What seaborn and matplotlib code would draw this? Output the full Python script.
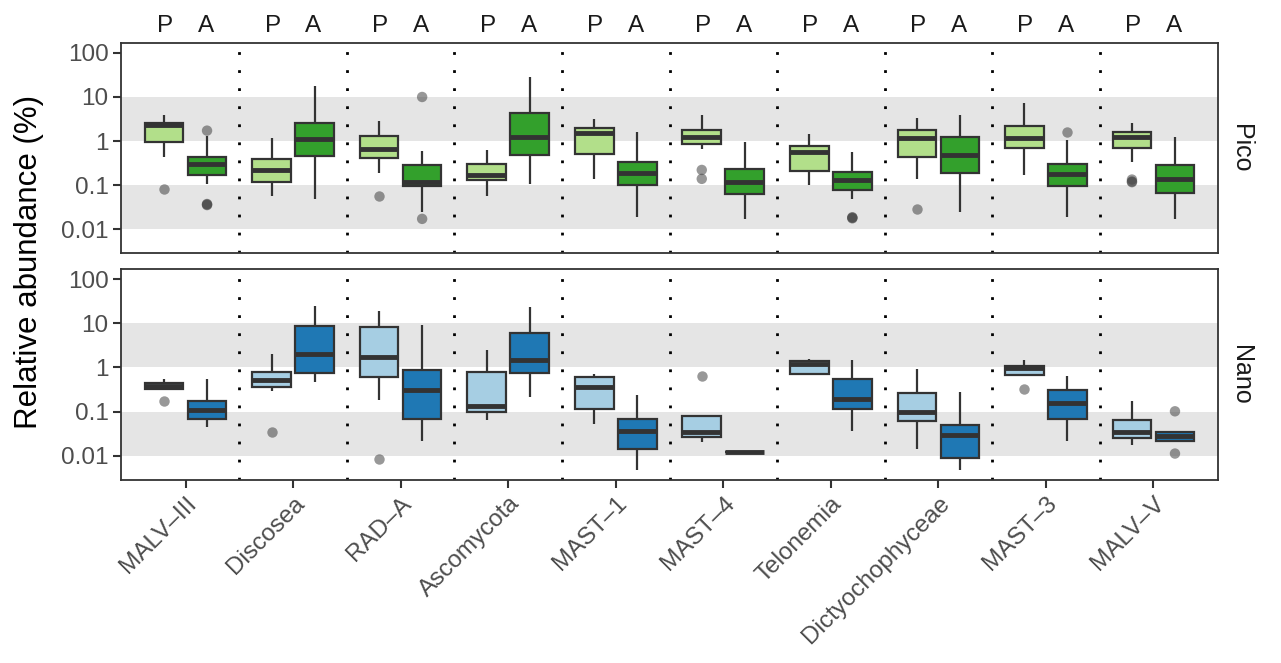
import numpy as np
import pandas as pd
import matplotlib.pyplot as plt
import seaborn as sns

sns.set_style('ticks')
plt.rcParams['font.family'] = ['Liberation Sans', 'DejaVu Sans']

taxa = ['MALV–III', 'Discosea', 'RAD–A', 'Ascomycota', 'MAST–1',
        'MAST–4', 'Telonemia', 'Dictyochophyceae', 'MAST–3', 'MALV–V']
groups = ['P', 'A']
fractions = ['Pico', 'Nano']

# box summaries per taxon: (whisker low, q1, median, q3, whisker high), %
pico_P = [(0.43, 0.97, 2.35, 2.55, 3.9), (0.056, 0.118, 0.22, 0.38, 1.17),
          (0.185, 0.41, 0.66, 1.32, 2.83), (0.056, 0.133, 0.17, 0.30, 0.64),
          (0.14, 0.51, 1.5, 1.97, 3.1), (0.65, 0.86, 1.26, 1.8, 3.86),
          (0.098, 0.21, 0.56, 0.79, 1.41), (0.14, 0.44, 1.17, 1.8, 3.3),
          (0.17, 0.7, 1.17, 2.22, 7.2), (0.33, 0.69, 1.22, 1.57, 2.6)]
pico_A = [(0.105, 0.173, 0.305, 0.44, 1.3), (0.047, 0.45, 1.11, 2.5, 17.4),
          (0.024, 0.096, 0.118, 0.285, 0.59), (0.103, 0.49, 1.22, 4.36, 28),
          (0.019, 0.1, 0.19, 0.34, 1.6), (0.017, 0.061, 0.118, 0.23, 0.95),
          (0.047, 0.077, 0.133, 0.195, 0.57), (0.024, 0.185, 0.47, 1.26, 3.9),
          (0.019, 0.094, 0.18, 0.295, 1.06), (0.017, 0.067, 0.14, 0.29, 1.26)]
nano_P = [(0.32, 0.32, 0.38, 0.44, 0.56), (0.30, 0.365, 0.52, 0.785, 2.04),
          (0.182, 0.615, 1.71, 8.3, 18.7), (0.065, 0.096, 0.135, 0.8, 2.45),
          (0.052, 0.116, 0.365, 0.594, 0.695), (0.0204, 0.0265, 0.035, 0.08, 0.082),
          (0.72, 0.73, 1.19, 1.39, 1.57), (0.0147, 0.06, 0.099, 0.27, 0.92),
          (0.67, 0.67, 0.95, 1.07, 1.47), (0.0178, 0.026, 0.035, 0.065, 0.17)]
nano_A = [(0.045, 0.069, 0.11, 0.174, 0.56), (0.47, 0.76, 1.97, 8.8, 25),
          (0.022, 0.069, 0.31, 0.855, 9.2), (0.22, 0.745, 1.47, 6.1, 23),
          (0.0047, 0.014, 0.036, 0.069, 0.24), (0.012, 0.012, 0.012, 0.012, 0.012),
          (0.037, 0.118, 0.19, 0.545, 1.51), (0.0047, 0.009, 0.029, 0.049, 0.28),
          (0.022, 0.068, 0.158, 0.307, 0.645), (0.022, 0.022, 0.028, 0.034, 0.036)]

# outliers: (taxon index, value)
pico_P_out = [(0, 0.082), (2, 0.056), (5, 0.22), (5, 0.138), (7, 0.028),
              (9, 0.133), (9, 0.116), (9, 0.12)]
pico_A_out = [(0, 1.72), (0, 0.037), (0, 0.036), (0, 0.035), (2, 10), (2, 0.017),
              (6, 0.018), (6, 0.0185), (6, 0.0175), (8, 1.63)]
nano_P_out = [(0, 0.174), (1, 0.034), (2, 0.0083), (5, 0.65), (8, 0.33)]
nano_A_out = [(9, 0.102), (9, 0.0113)]

series = {('Pico', 'P'): (pico_P, pico_P_out), ('Pico', 'A'): (pico_A, pico_A_out),
          ('Nano', 'P'): (nano_P, nano_P_out), ('Nano', 'A'): (nano_A, nano_A_out)}

rows, out_rows = [], []
for (frac, grp), (stats, outs) in series.items():
    for t, vals in zip(taxa, stats):
        for v in vals:
            rows.append({'fraction': frac, 'group': grp, 'taxon': t, 'value': v})
    for i, v in outs:
        out_rows.append({'fraction': frac, 'group': grp, 'taxon': taxa[i], 'value': v})
df = pd.DataFrame(rows)
df_out = pd.DataFrame(out_rows)

palettes = {'Pico': {'P': '#b2df8a', 'A': '#33a02c'},
            'Nano': {'P': '#a6cee3', 'A': '#1f78b4'}}

fig = plt.figure(figsize=(12.81, 6.63), dpi=100)
W, H = 1281, 663
ax_top = fig.add_axes([121 / W, 1 - 253 / H, 1097 / W, 210 / H])
ax_bot = fig.add_axes([121 / W, 1 - 480 / H, 1097 / W, 211 / H])

for ax, frac in [(ax_top, 'Pico'), (ax_bot, 'Nano')]:
    ax.axhspan(0.01, 0.1, color='#e5e5e5', zorder=0, lw=0)
    ax.axhspan(1, 10, color='#e5e5e5', zorder=0, lw=0)
    for i in range(len(taxa) - 1):
        ax.axvline(i + 0.5, color='black', lw=2, ls=(0, (1, 5.5)), zorder=0.5)
    sns.boxplot(data=df[df.fraction == frac], x='taxon', y='value', hue='group',
                order=taxa, hue_order=groups, palette=palettes[frac], saturation=1,
                whis=(0, 100), showfliers=False, showcaps=False, width=0.8, gap=0.1,
                linecolor='#333333', linewidth=1.6, medianprops={'linewidth': 3.5},
                log_scale=True, legend=False, ax=ax)
    sub = df_out[df_out.fraction == frac]
    sns.stripplot(data=sub, x='taxon', y='value', hue='group', order=taxa,
                  hue_order=groups, palette={'P': '#444444', 'A': '#444444'},
                  dodge=True, jitter=False, size=7.5, alpha=0.55, linewidth=0,
                  legend=False, ax=ax)
    ax.set_yscale('log')
    ax.set_ylim(10 ** -2.545, 10 ** 2.227)
    ax.set_xlim(-0.6, len(taxa) - 0.4)
    ax.set_yticks([0.01, 0.1, 1, 10, 100])
    ax.set_yticklabels(['0.01', '0.1', '1', '10', '100'])
    ax.minorticks_off()
    ax.set_xlabel('')
    ax.set_ylabel('')
    ax.tick_params(axis='both', colors='#333333', labelcolor='#4d4d4d',
                   labelsize=17.5, length=6, width=1.5, pad=3)
    for s in ax.spines.values():
        s.set_visible(True)
        s.set_color('#333333')
        s.set_linewidth(1.3)
    ax.text(1.01, 0.5, frac, transform=ax.transAxes, rotation=-90,
            ha='left', va='center', fontsize=18, color='#1a1a1a')

ax_top.tick_params(axis='x', length=0, labelbottom=False)
ax_bot.set_xticks(range(len(taxa)))
ax_bot.set_xticklabels(taxa, rotation=45, ha='right', rotation_mode='anchor')

for i in range(len(taxa)):
    for off, g in [(-0.19, 'P'), (0.19, 'A')]:
        ax_top.text(i + off, 1.08, g, transform=ax_top.get_xaxis_transform(),
                    ha='center', va='center', fontsize=17.5, color='#1a1a1a')

fig.text(29 / W, 1 - 262 / H, 'Relative abundance (%)', rotation=90,
         ha='center', va='center', fontsize=22.5, color='black')

fig.savefig('out.png', dpi=100)
